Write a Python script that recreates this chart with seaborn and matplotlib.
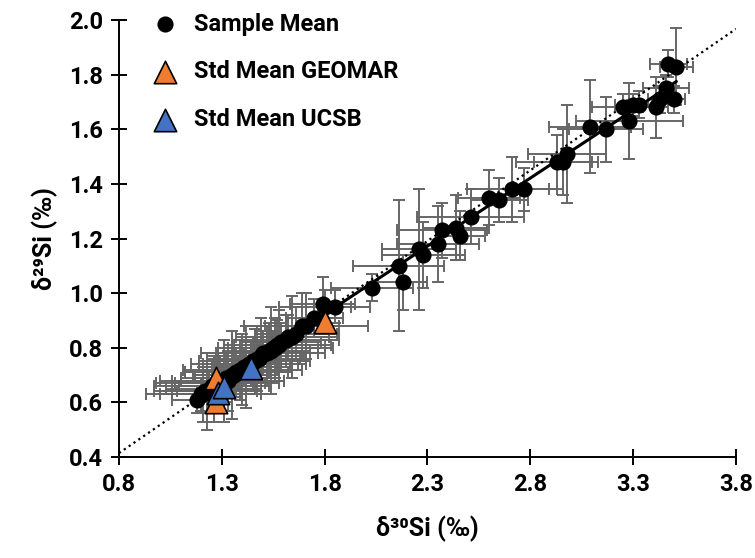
import numpy as np
import pandas as pd
import matplotlib
matplotlib.use('Agg')
import matplotlib.pyplot as plt
import seaborn as sns

# sample means (d30Si, d29Si) with 2sd error bars
sample_x = [1.18, 1.20, 1.22, 1.24, 1.25, 1.27, 1.29, 1.30, 1.32, 1.34,
            1.36, 1.38, 1.39, 1.41, 1.43, 1.45, 1.47, 1.48, 1.50, 1.53,
            1.55, 1.57, 1.59, 1.62, 1.66, 1.69, 1.75, 1.79, 1.80, 1.85,
            2.03, 2.16, 2.18, 2.26, 2.28, 2.35, 2.37, 2.44, 2.46, 2.51,
            2.60, 2.65, 2.71, 2.77, 2.93, 2.96, 2.98, 3.09, 3.17, 3.25,
            3.28, 3.30, 3.33, 3.41, 3.43, 3.46, 3.47, 3.50, 3.51,
            1.21, 1.23, 1.26, 1.28, 1.31, 1.33, 1.35, 1.37, 1.40, 1.42,
            1.44, 1.46, 1.49, 1.52, 1.54, 1.56, 1.58, 1.61, 1.64, 1.71]
sample_y = [0.61, 0.63, 0.64, 0.64, 0.66, 0.66, 0.67, 0.68, 0.69, 0.69,
            0.70, 0.71, 0.72, 0.73, 0.74, 0.75, 0.76, 0.76, 0.78, 0.79,
            0.80, 0.81, 0.82, 0.84, 0.85, 0.88, 0.91, 0.96, 0.95, 0.95,
            1.02, 1.10, 1.04, 1.16, 1.14, 1.18, 1.23, 1.24, 1.21, 1.28,
            1.35, 1.34, 1.38, 1.38, 1.48, 1.48, 1.51, 1.61, 1.60, 1.68,
            1.63, 1.69, 1.69, 1.68, 1.71, 1.75, 1.84, 1.71, 1.83,
            0.63, 0.64, 0.65, 0.67, 0.68, 0.68, 0.70, 0.71, 0.72, 0.73,
            0.74, 0.75, 0.77, 0.78, 0.79, 0.80, 0.81, 0.83, 0.84, 0.88]
sample_xerr = [0.12, 0.20, 0.25, 0.16, 0.28, 0.18, 0.22, 0.30, 0.15, 0.24,
               0.20, 0.26, 0.18, 0.22, 0.28, 0.16, 0.24, 0.20, 0.30, 0.18,
               0.22, 0.26, 0.19, 0.25, 0.20, 0.18, 0.14, 0.16, 0.22, 0.08,
               0.20, 0.22, 0.12, 0.18, 0.20, 0.20, 0.22, 0.16, 0.12, 0.26,
               0.15, 0.14, 0.22, 0.12, 0.20, 0.14, 0.19, 0.20, 0.18, 0.15,
               0.26, 0.09, 0.06, 0.06, 0.06, 0.11, 0.09, 0.05, 0.08,
               0.28, 0.17, 0.23, 0.30, 0.21, 0.27, 0.19, 0.25, 0.29, 0.17,
               0.23, 0.27, 0.21, 0.25, 0.19, 0.28, 0.22, 0.26, 0.18, 0.30]
sample_yerr = [0.05, 0.06, 0.04, 0.08, 0.05, 0.10, 0.07, 0.06, 0.09, 0.05,
               0.08, 0.06, 0.11, 0.07, 0.05, 0.09, 0.12, 0.06, 0.08, 0.10,
               0.06, 0.09, 0.07, 0.08, 0.10, 0.12, 0.07, 0.10, 0.06, 0.06,
               0.05, 0.24, 0.10, 0.22, 0.12, 0.14, 0.10, 0.12, 0.09, 0.10,
               0.10, 0.08, 0.12, 0.08, 0.10, 0.12, 0.18, 0.17, 0.12, 0.05,
               0.14, 0.04, 0.05, 0.11, 0.05, 0.05, 0.05, 0.05, 0.14,
               0.10, 0.14, 0.12, 0.09, 0.15, 0.11, 0.16, 0.09, 0.13, 0.15,
               0.08, 0.12, 0.14, 0.10, 0.16, 0.11, 0.13, 0.09, 0.15, 0.12]

# standard means
geomar_x = [1.27, 1.27, 1.80]
geomar_y = [0.69, 0.60, 0.895]
ucsb_x = [1.28, 1.31, 1.44]
ucsb_y = [0.635, 0.655, 0.725]

# theoretical mass-dependent fractionation line
mdf_slope = 0.5178

df = pd.DataFrame({'d30': sample_x, 'd29': sample_y})
fit = np.polyfit(df['d30'], df['d29'], 1)

sns.set_theme(style="ticks", rc={'text.color': 'black', 'axes.labelcolor': 'black',
                                 'xtick.color': 'black', 'ytick.color': 'black'})
plt.rcParams['font.family'] = ['Roboto', 'DejaVu Sans']
plt.rcParams['font.weight'] = 'bold'

fig = plt.figure(figsize=(7.55, 5.58), dpi=100)
ax = fig.add_axes([0.1576, 0.181, 0.8172, 0.783])

ax.errorbar(sample_x, sample_y, xerr=sample_xerr, yerr=sample_yerr, fmt='none',
            ecolor='#666666', elinewidth=1.4, capsize=4, capthick=1.4, zorder=1)

xx = np.array([0.8, 3.8])
ax.plot(xx, mdf_slope * xx, ls=':', color='black', lw=1.6, zorder=2)
xf = np.array([min(sample_x), max(sample_x)])
ax.plot(xf, np.polyval(fit, xf), color='black', lw=2.2, zorder=3)

sns.scatterplot(x='d30', y='d29', data=df, ax=ax, color='black', s=135,
                edgecolor='black', linewidth=0, label='Sample Mean', zorder=4)
sns.scatterplot(x=geomar_x, y=geomar_y, ax=ax, marker='^', color='#ee7d31', s=260,
                edgecolor='black', linewidth=1.2, label='Std Mean GEOMAR', zorder=5)
sns.scatterplot(x=ucsb_x, y=ucsb_y, ax=ax, marker='^', color='#4472c4', s=260,
                edgecolor='black', linewidth=1.2, label='Std Mean UCSB', zorder=5)

ax.set_xlim(0.8, 3.8)
ax.set_ylim(0.4, 2.0)
ax.set_xticks([0.8, 1.3, 1.8, 2.3, 2.8, 3.3, 3.8])
ax.set_yticks([0.4, 0.6, 0.8, 1.0, 1.2, 1.4, 1.6, 1.8, 2.0])
ax.set_xticklabels(['0.8', '1.3', '1.8', '2.3', '2.8', '3.3', '3.8'])
ax.set_yticklabels(['0.4', '0.6', '0.8', '1.0', '1.2', '1.4', '1.6', '1.8', '2.0'])
ax.tick_params(axis='both', direction='inout', length=11, width=1.4, labelsize=17, pad=6)
for lab in ax.get_xticklabels() + ax.get_yticklabels():
    lab.set_fontweight('bold')
for side in ['top', 'right']:
    ax.spines[side].set_visible(False)
for side in ['left', 'bottom']:
    ax.spines[side].set_linewidth(1.4)
    ax.spines[side].set_color('black')

ax.set_xlabel('δ³⁰Si (‰)', fontsize=18, fontweight='bold', labelpad=14)
ax.set_ylabel('δ²⁹Si (‰)', fontsize=18, fontweight='bold', labelpad=8)

ax.legend(loc='upper left', bbox_to_anchor=(0.01, 1.055), frameon=False,
          handletextpad=0.2, labelspacing=1.05, borderpad=0.2,
          prop={'weight': 'bold', 'size': 17})

plt.savefig('out.png', dpi=100)
